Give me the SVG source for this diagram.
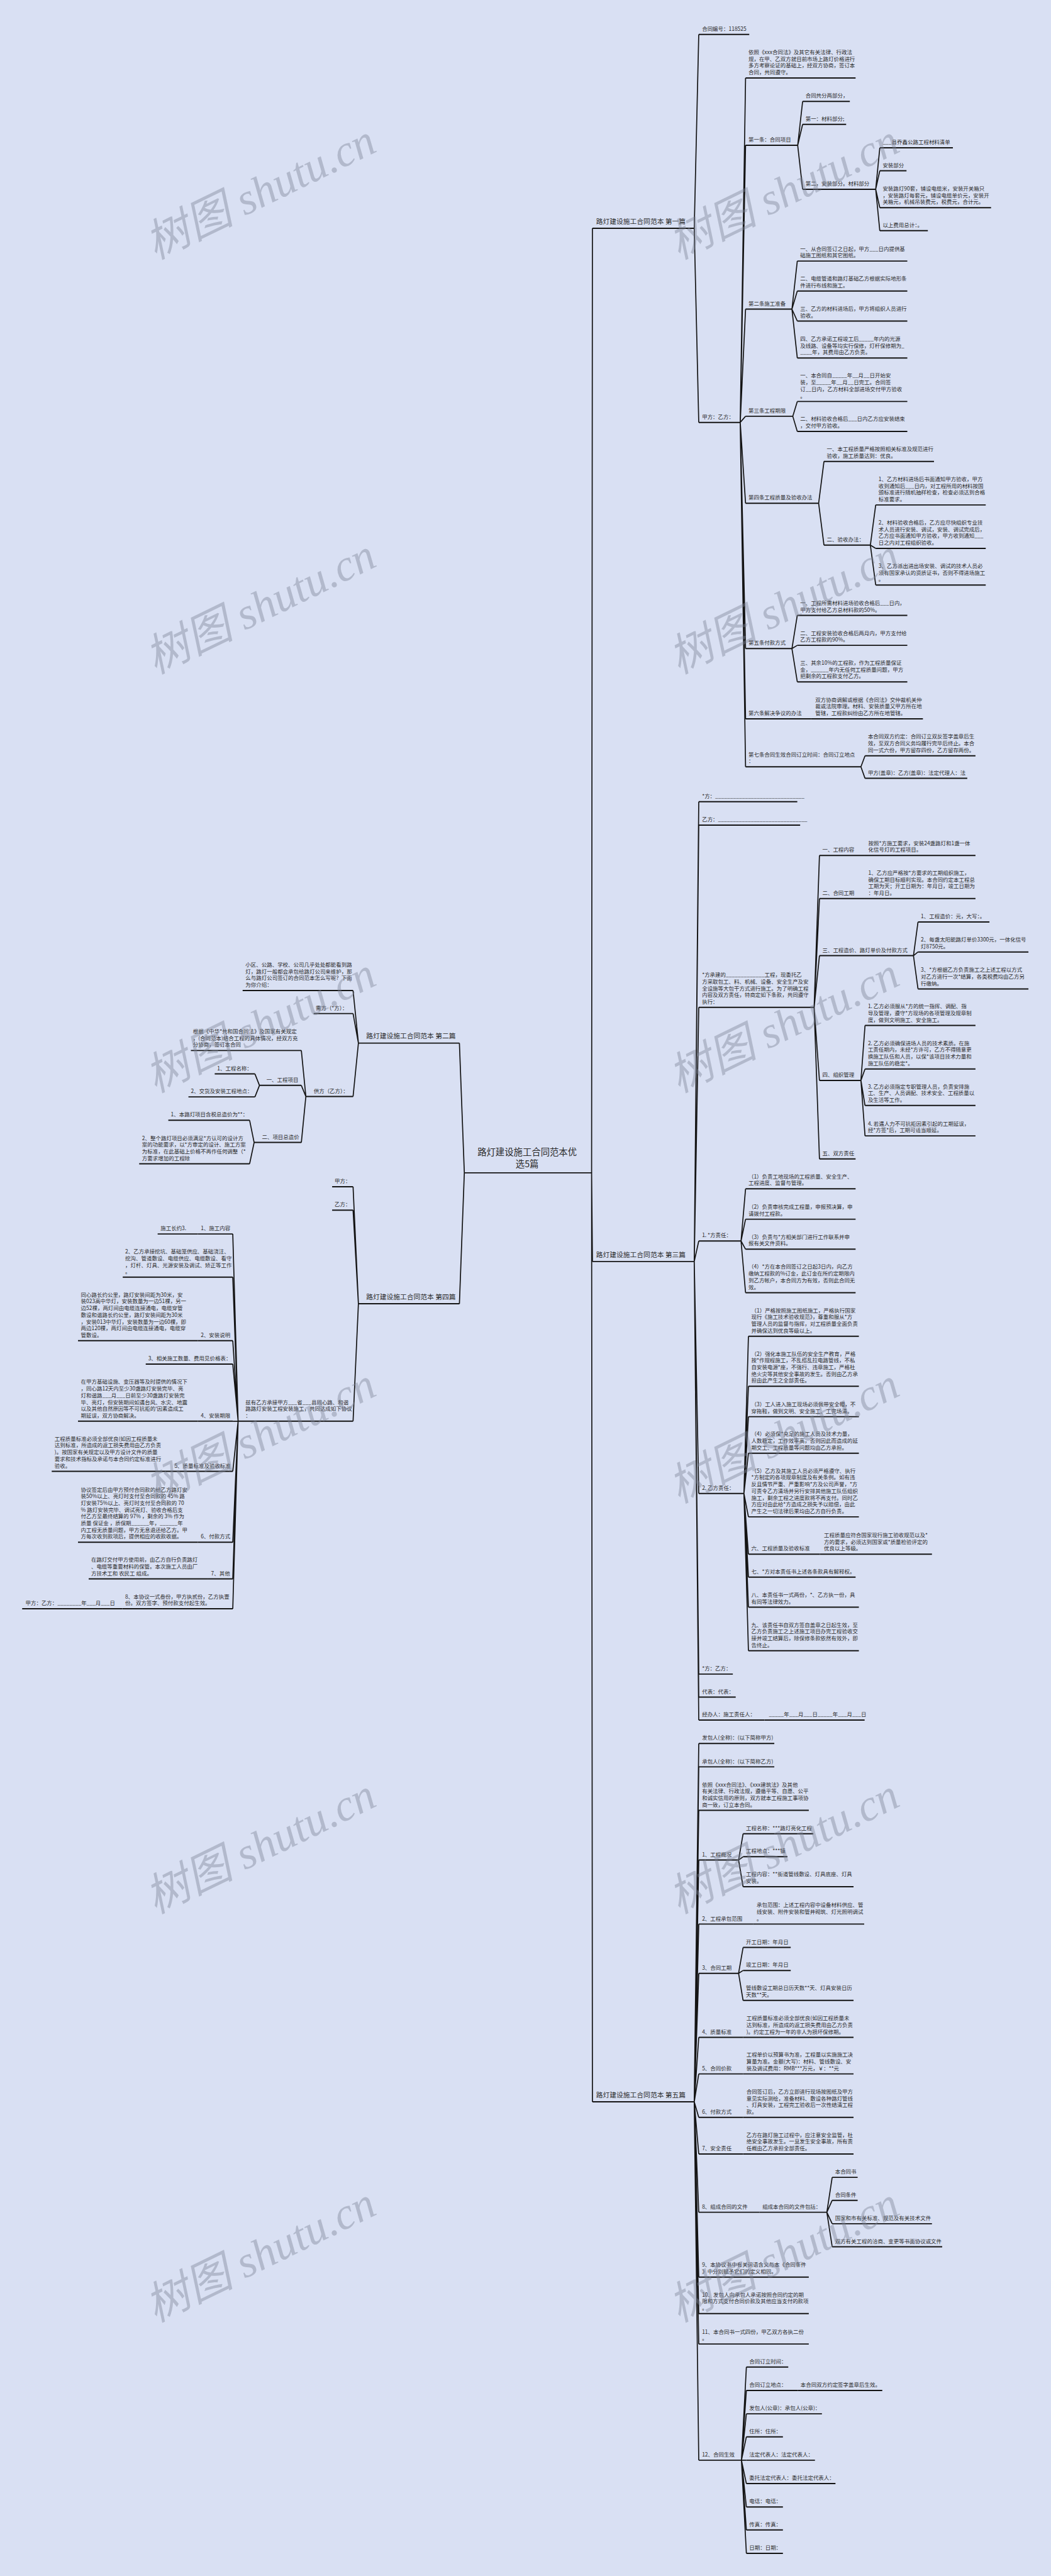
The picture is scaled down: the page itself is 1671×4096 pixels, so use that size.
<svg xmlns="http://www.w3.org/2000/svg" width="1671" height="4096" viewBox="0 0 1671 4096">
<style>
.t{font-family:"Noto Sans CJK SC","Noto Sans",sans-serif;font-size:13px;fill:#2a2a2a}
.b{font-size:16.5px}
.c{font-size:22px}
.u{stroke:#141414;stroke-width:3;fill:none}
.k{stroke:#141414;stroke-width:2.6;fill:none}
.wm{font-family:"Liberation Serif","Noto Sans CJK SC",serif;font-style:italic;font-size:108px;fill:#7d8396;fill-opacity:0.42}
</style>
<rect width="1671" height="4096" fill="#d9e0f3"/>
<g transform="scale(0.65274)">
<g id="connectors" class="k">
<path d="M1441 2857L1443 556M1441 2857L1443 3073M1441 2857L1443 5120M1131 2857L1119 2541M1131 2857L1119 3176"/>
<path d="M1691 556L1702 84M1691 556L1702 1029"/>
<path d="M1803 1029L1816 190M1803 1029L1816 354M1803 1029L1816 753M1803 1029L1816 1014M1803 1029L1816 1226M1803 1029L1816 1580M1803 1029L1816 1751M1803 1029L1816 1868"/>
<path d="M1943 354L1955 247M1943 354L1955 303M1943 354L1955 461"/>
<path d="M2133 461L2143 360M2133 461L2143 416M2133 461L2143 506M2133 461L2143 562"/>
<path d="M1929 753L1942 636M1929 753L1942 709M1929 753L1942 782M1929 753L1942 872"/>
<path d="M1931 1014L1942 978M1931 1014L1942 1051"/>
<path d="M1994 1226L2007 1124M1994 1226L2007 1328"/>
<path d="M2120 1328L2133 1230M2120 1328L2133 1336M2120 1328L2133 1425"/>
<path d="M1929 1580L1942 1499M1929 1580L1942 1572M1929 1580L1942 1661"/>
<path d="M2097 1868L2107 1841M2097 1868L2107 1896"/>
<path d="M1691 3073L1702 1953M1691 3073L1702 2010M1691 3073L1702 2454M1691 3073L1702 3023M1691 3073L1702 3638M1691 3073L1702 4078M1691 3073L1702 4134M1691 3073L1702 4190"/>
<path d="M1983 2454L1996 2084M1983 2454L1996 2189M1983 2454L1996 2328M1983 2454L1996 2632M1983 2454L1996 2823"/>
<path d="M2225 2328L2236 2246M2225 2328L2236 2319M2225 2328L2236 2409"/>
<path d="M2097 2632L2107 2498M2097 2632L2107 2604M2097 2632L2107 2693M2097 2632L2107 2767"/>
<path d="M1805 3023L1816 2896M1805 3023L1816 2970M1805 3023L1816 3043M1805 3023L1816 3149"/>
<path d="M1812 3638L1823 3255M1812 3638L1823 3377M1812 3638L1823 3451M1812 3638L1823 3540M1812 3638L1823 3695M1812 3638L1823 3786M1812 3638L1823 3842M1812 3638L1823 3915M1812 3638L1823 4021"/>
<path d="M1691 5120L1702 4247M1691 5120L1702 4304M1691 5120L1702 4410M1691 5120L1702 4531M1691 5120L1702 4687M1691 5120L1702 4807M1691 5120L1702 4963M1691 5120L1702 5052M1691 5120L1702 5158M1691 5120L1702 5247M1691 5120L1702 5389M1691 5120L1702 5547M1691 5120L1702 5636M1691 5120L1702 5710M1691 5120L1702 5993"/>
<path d="M1799 4531L1810 4467M1799 4531L1810 4523M1799 4531L1810 4596"/>
<path d="M1799 4807L1810 4744M1799 4807L1810 4800M1799 4807L1810 4873"/>
<path d="M2014 5389L2027 5304M2014 5389L2027 5360M2014 5389L2027 5417M2014 5389L2027 5473"/>
<path d="M1806 5993L1818 5766M1806 5993L1818 5823M1806 5993L1818 5880M1806 5993L1818 5936M1806 5993L1818 5993M1806 5993L1818 6050M1806 5993L1818 6107M1806 5993L1818 6163M1806 5993L1818 6220"/>
<path d="M873 2541L860 2413M873 2541L860 2469M873 2541L860 2671"/>
<path d="M745 2671L734 2559M745 2671L734 2644M745 2671L734 2783"/>
<path d="M632 2644L621 2616M632 2644L621 2672"/>
<path d="M619 2783L608 2729M619 2783L608 2835"/>
<path d="M873 3176L860 2891M873 3176L860 2948M873 3176L860 3462"/>
<path d="M580 3462L567 3006M580 3462L567 3111M580 3462L567 3266M580 3462L567 3323M580 3462L567 3462M580 3462L567 3584M580 3462L567 3757M580 3462L567 3846M580 3462L567 3919"/>
</g>

<g id="center"><text class="t c" text-anchor="middle"><tspan x="1284" y="2814">路灯建设施工合同范本优</tspan><tspan x="1284" y="2843">选5篇</tspan></text><path class="u" d="M1131 2857H1441"/></g>

<g id="p1"><text class="t b" x="1452" y="545">路灯建设施工合同范本 第一篇</text><path class="u" d="M1443 556H1691"/></g>
<g id="n1"><text class="t" x="1710" y="75">合同编号：118525</text><path class="u" d="M1702 84H1825"/></g>
<g id="n2"><text class="t" x="1710" y="1020">甲方：乙方：</text><path class="u" d="M1702 1029H1803"/></g>
<g id="n2a"><text class="t"><tspan x="1823" y="131.8">依照《xxx合同法》及其它有关法律、行政法</tspan><tspan x="1823" y="148.2">规，在甲、乙双方就目前市场上路灯价格进行</tspan><tspan x="1823" y="164.6">多方考察论证的基础上，经双方协商，签订本</tspan><tspan x="1823" y="181">合同，共同遵守。</tspan></text><path class="u" d="M1816 190H2084"/></g>
<g id="n2b"><text class="t" x="1823" y="345">第一条：合同项目</text><path class="u" d="M1816 354H1943"/></g>
<g id="n2b1"><text class="t" x="1962" y="238">合同共分两部分，</text><path class="u" d="M1955 247H2070"/></g>
<g id="n2b2"><text class="t" x="1962" y="294">第一：材料部分;</text><path class="u" d="M1955 303H2061"/></g>
<g id="n2b3"><text class="t" x="1962" y="452">第二，安装部分。材料部分</text><path class="u" d="M1955 461H2133"/></g>
<g id="n2b3a"><text class="t" x="2150" y="351">___县乔鑫公路工程材料清单</text><path class="u" d="M2143 360H2321"/></g>
<g id="n2b3b"><text class="t" x="2150" y="407">安装部分</text><path class="u" d="M2143 416H2208"/></g>
<g id="n2b3c"><text class="t"><tspan x="2150" y="464.2">安装路灯90套，铺设电缆米，安装开关箱只</tspan><tspan x="2150" y="480.6">，安装路灯每套元，铺设电缆单价元，安装开</tspan><tspan x="2150" y="497">关箱元，机械吊装费元，税费元，合计元。</tspan></text><path class="u" d="M2143 506H2414"/></g>
<g id="n2b3d"><text class="t" x="2150" y="553">以上费用总计：。</text><path class="u" d="M2143 562H2260"/></g>
<g id="n2c"><text class="t" x="1823" y="744">第二条施工准备</text><path class="u" d="M1816 753H1929"/></g>
<g id="n2c1"><text class="t"><tspan x="1949" y="610.6">一、从合同签订之日起，甲方___日内提供基</tspan><tspan x="1949" y="627">础施工图纸和其它图纸。</tspan></text><path class="u" d="M1942 636H2210"/></g>
<g id="n2c2"><text class="t"><tspan x="1949" y="683.6">二、电缆管道和路灯基础乙方根据实际地形条</tspan><tspan x="1949" y="700">件进行布线和施工。</tspan></text><path class="u" d="M1942 709H2210"/></g>
<g id="n2c3"><text class="t"><tspan x="1949" y="756.6">三、乙方的材料进场后，甲方将组织人员进行</tspan><tspan x="1949" y="773">验收。</tspan></text><path class="u" d="M1942 782H2210"/></g>
<g id="n2c4"><text class="t"><tspan x="1949" y="830.2">四、乙方承诺工程竣工后_____年内的光源</tspan><tspan x="1949" y="846.6">及线路、设备等均实行保修，灯杆保修期为_</tspan><tspan x="1949" y="863">____年，其费用由乙方负责。</tspan></text><path class="u" d="M1942 872H2210"/></g>
<g id="n2d"><text class="t" x="1823" y="1005">第三条工程期限</text><path class="u" d="M1816 1014H1931"/></g>
<g id="n2d1"><text class="t"><tspan x="1949" y="919.8">一、本合同自_____年__月__日开始安</tspan><tspan x="1949" y="936.2">装，至_____年__月__日完工。合同签</tspan><tspan x="1949" y="952.6">订__日内，乙方材料全部进场交付甲方验收</tspan><tspan x="1949" y="969">。</tspan></text><path class="u" d="M1942 978H2210"/></g>
<g id="n2d2"><text class="t"><tspan x="1949" y="1025.6">二、材料验收合格后___日内乙方应安装结束</tspan><tspan x="1949" y="1042">，交付甲方验收。</tspan></text><path class="u" d="M1942 1051H2210"/></g>
<g id="n2e"><text class="t" x="1823" y="1217">第四条工程质量及验收办法</text><path class="u" d="M1816 1226H1994"/></g>
<g id="n2e1"><text class="t"><tspan x="2014" y="1098.6">一、本工程质量严格按照相关标准及规范进行</tspan><tspan x="2014" y="1115">验收，施工质量达到：优良。</tspan></text><path class="u" d="M2007 1124H2275"/></g>
<g id="n2e2"><text class="t" x="2014" y="1319">二、验收办法：</text><path class="u" d="M2007 1328H2120"/></g>
<g id="n2e2a"><text class="t"><tspan x="2140" y="1171.8">1、乙方材料进场后书面通知甲方验收，甲方</tspan><tspan x="2140" y="1188.2">收到通知后___日内，对工程所用的材料按国</tspan><tspan x="2140" y="1204.6">颁标准进行随机抽样检查，检查必须达到合格</tspan><tspan x="2140" y="1221">标准要求。</tspan></text><path class="u" d="M2133 1230H2401"/></g>
<g id="n2e2b"><text class="t"><tspan x="2140" y="1277.8">2、材料验收合格后，乙方应尽快组织专业技</tspan><tspan x="2140" y="1294.2">术人员进行安装、调试，安装、调试完成后，</tspan><tspan x="2140" y="1310.6">乙方应书面通知甲方验收，甲方收到通知___</tspan><tspan x="2140" y="1327">日之内对工程组织验收。</tspan></text><path class="u" d="M2133 1336H2401"/></g>
<g id="n2e2c"><text class="t"><tspan x="2140" y="1383.2">3、乙方派出进出场安装、调试的技术人员必</tspan><tspan x="2140" y="1399.6">须有国家承认的资质证书，否则不得进场施工</tspan><tspan x="2140" y="1416">。</tspan></text><path class="u" d="M2133 1425H2401"/></g>
<g id="n2f"><text class="t" x="1823" y="1571">第五条付款方式</text><path class="u" d="M1816 1580H1929"/></g>
<g id="n2f1"><text class="t"><tspan x="1949" y="1473.6">一、工程所需材料进场验收合格后___日内，</tspan><tspan x="1949" y="1490">甲方支付给乙方总材料款的50%。</tspan></text><path class="u" d="M1942 1499H2210"/></g>
<g id="n2f2"><text class="t"><tspan x="1949" y="1546.6">二、工程安装验收合格后两月内，甲方支付给</tspan><tspan x="1949" y="1563">乙方工程款的90%。</tspan></text><path class="u" d="M1942 1572H2210"/></g>
<g id="n2f3"><text class="t"><tspan x="1949" y="1619.2">三、其余10%的工程款，作为工程质量保证</tspan><tspan x="1949" y="1635.6">金，______年内无任何工程质量问题，甲方</tspan><tspan x="1949" y="1652">把剩余的工程款支付乙方。</tspan></text><path class="u" d="M1942 1661H2210"/></g>
<g id="n2g"><text class="t" x="1823" y="1742">第六条解决争议的办法</text><path class="u" d="M1816 1751H1976"/></g>
<g id="n2g1"><text class="t"><tspan x="1986" y="1709.2">双方协商调解或根据《合同法》交仲裁机关仲</tspan><tspan x="1986" y="1725.6">裁或法院审理。材料、安装质量又甲方所在地</tspan><tspan x="1986" y="1742">管辖，工程款纠纷由乙方所在地管辖。</tspan></text><path class="u" d="M1976 1751H2248"/></g>
<g id="n2h"><text class="t"><tspan x="1823" y="1842.6">第七条合同生效合同订立时间：合同订立地点</tspan><tspan x="1823" y="1859">：</tspan></text><path class="u" d="M1816 1868H2097"/></g>
<g id="n2h1"><text class="t"><tspan x="2114" y="1799.2">本合同双方约定：合同订立双反签字盖章后生</tspan><tspan x="2114" y="1815.6">效，至双方合同义务均履行完毕后终止。本合</tspan><tspan x="2114" y="1832">同一式六份，甲方留存四份，乙方留存两份。</tspan></text><path class="u" d="M2107 1841H2376"/></g>
<g id="n2h2"><text class="t" x="2114" y="1887">甲方(盖章)：乙方(盖章)：法定代理人：法</text><path class="u" d="M2107 1896H2356"/></g>

<g id="p3"><text class="t b" x="1452" y="3062">路灯建设施工合同范本 第三篇</text><path class="u" d="M1443 3073H1691"/></g>
<g id="m1"><text class="t" x="1710" y="1944">*方：______________________________</text><path class="u" d="M1702 1953H1942"/></g>
<g id="m2"><text class="t" x="1710" y="2001">乙方：______________________________</text><path class="u" d="M1702 2010H1949"/></g>
<g id="m3"><text class="t"><tspan x="1710" y="2379.4">*方承建的_____________工程，现委托乙</tspan><tspan x="1710" y="2395.8">方采取包工、料、机械、设备、安全生产及安</tspan><tspan x="1710" y="2412.2">全设施等大包干方式进行施工。为了明确工程</tspan><tspan x="1710" y="2428.6">内容及双方责任，特商定如下条款，共同遵守</tspan><tspan x="1710" y="2445">执行：</tspan></text><path class="u" d="M1702 2454H1983"/></g>
<g id="m3a"><text class="t" x="2003" y="2075">一、工程内容</text><path class="u" d="M1996 2084H2105"/></g>
<g id="m3a1"><text class="t"><tspan x="2115" y="2058.6">按照*方施工要求，安装24盏路灯和1盏一体</tspan><tspan x="2115" y="2075">化信号灯的工程项目。</tspan></text><path class="u" d="M2105 2084H2376"/></g>
<g id="m3b"><text class="t" x="2003" y="2180">二、合同工期</text><path class="u" d="M1996 2189H2105"/></g>
<g id="m3b1"><text class="t"><tspan x="2115" y="2130.8">1、乙方应严格按*方要求的工期组织施工，</tspan><tspan x="2115" y="2147.2">确保工期目标顺利实现。本合同约定本工程总</tspan><tspan x="2115" y="2163.6">工期为天；开工日期为：年月日，竣工日期为</tspan><tspan x="2115" y="2180">：年月日。</tspan></text><path class="u" d="M2105 2189H2376"/></g>
<g id="m3c"><text class="t" x="2003" y="2319">三、工程造价、路灯单价及付款方式</text><path class="u" d="M1996 2328H2225"/></g>
<g id="m3c1"><text class="t" x="2243" y="2237">1、工程造价：元，大写：。</text><path class="u" d="M2236 2246H2410"/></g>
<g id="m3c2"><text class="t"><tspan x="2243" y="2293.6">2、每盏太阳能路灯单价3300元，一体化信号</tspan><tspan x="2243" y="2310">灯8750元。</tspan></text><path class="u" d="M2236 2319H2505"/></g>
<g id="m3c3"><text class="t"><tspan x="2243" y="2367.2">3、*方根据乙方负责施工之上述工程以方式</tspan><tspan x="2243" y="2383.6">对乙方进行一次*结算，各类税费均由乙方另</tspan><tspan x="2243" y="2400">行缴纳。</tspan></text><path class="u" d="M2236 2409H2505"/></g>
<g id="m3d"><text class="t" x="2003" y="2623">四、组织管理</text><path class="u" d="M1996 2632H2097"/></g>
<g id="m3d1"><text class="t"><tspan x="2114" y="2456.2">1. 乙方必须服从*方的统一指挥、调配、指</tspan><tspan x="2114" y="2472.6">导及管理，遵守*方现场的各项管理及规章制</tspan><tspan x="2114" y="2489">度，做到文明施工、安全施工。</tspan></text><path class="u" d="M2107 2498H2376"/></g>
<g id="m3d2"><text class="t"><tspan x="2114" y="2545.8">2. 乙方必须确保进场人员的技术素质。在施</tspan><tspan x="2114" y="2562.2">工责任期内，未经*方许可，乙方不得随意更</tspan><tspan x="2114" y="2578.6">换施工队伍和人员，以保*该项目技术力量和</tspan><tspan x="2114" y="2595">施工队伍的稳定*。</tspan></text><path class="u" d="M2107 2604H2376"/></g>
<g id="m3d3"><text class="t"><tspan x="2114" y="2651.2">3. 乙方必须指定专职管理人员，负责安排施</tspan><tspan x="2114" y="2667.6">工、生产、人员调配、技术安全、工程质量以</tspan><tspan x="2114" y="2684">及生活等工作。</tspan></text><path class="u" d="M2107 2693H2376"/></g>
<g id="m3d4"><text class="t"><tspan x="2114" y="2741.6">4. 若遇人力不可抗拒因素引起的工期延误，</tspan><tspan x="2114" y="2758">经*方签*后，工期可适当顺延。</tspan></text><path class="u" d="M2107 2767H2376"/></g>
<g id="m3e"><text class="t" x="2003" y="2814">五、双方责任</text><path class="u" d="M1996 2823H2084"/></g>
<g id="m4"><text class="t" x="1710" y="3014">1. *方责任：</text><path class="u" d="M1702 3023H1805"/></g>
<g id="m4a"><text class="t"><tspan x="1823" y="2870.6">（1）负责工地现场的工程质量、安全生产、</tspan><tspan x="1823" y="2887">工程进度、监督与管理。</tspan></text><path class="u" d="M1816 2896H2084"/></g>
<g id="m4b"><text class="t"><tspan x="1823" y="2944.6">（2）负责审核完成工程量，申报预决算，申</tspan><tspan x="1823" y="2961">请拨付工程款。</tspan></text><path class="u" d="M1816 2970H2084"/></g>
<g id="m4c"><text class="t"><tspan x="1823" y="3017.6">（3）负责与*方相关部门进行工作联系并申</tspan><tspan x="1823" y="3034">报有关文件资料。</tspan></text><path class="u" d="M1816 3043H2084"/></g>
<g id="m4d"><text class="t"><tspan x="1823" y="3090.8">（4）*方在本合同签订之日起3日内，向乙方</tspan><tspan x="1823" y="3107.2">缴纳工程款的%订金，此订金在所约定期限内</tspan><tspan x="1823" y="3123.6">到乙方帐户，本合同方为有效，否则此合同无</tspan><tspan x="1823" y="3140">效。</tspan></text><path class="u" d="M1816 3149H2084"/></g>
<g id="m5"><text class="t" x="1710" y="3629">2. 乙方责任：</text><path class="u" d="M1702 3638H1812"/></g>
<g id="m5a"><text class="t"><tspan x="1830" y="3196.8">（1）严格按照施工图纸施工，严格执行国家</tspan><tspan x="1830" y="3213.2">现行《施工技术验收规范》，尊重和服从*方</tspan><tspan x="1830" y="3229.6">管理人员的监督与指挥，对工程质量全面负责</tspan><tspan x="1830" y="3246">并确保达到优良等级以上。</tspan></text><path class="u" d="M1823 3255H2092"/></g>
<g id="m5b"><text class="t"><tspan x="1830" y="3302.4">（2）强化本施工队伍的安全生产教育，严格</tspan><tspan x="1830" y="3318.8">按*作规程施工，不乱搭乱拉电路管线，不私</tspan><tspan x="1830" y="3335.2">自安装电源*座，不强行、违章施工，严格杜</tspan><tspan x="1830" y="3351.6">绝火灾等其他安全事故的发生。否则由乙方承</tspan><tspan x="1830" y="3368">担由此产生之全部责任。</tspan></text><path class="u" d="M1823 3377H2092"/></g>
<g id="m5c"><text class="t"><tspan x="1830" y="3425.6">（3）工人进入施工现场必须佩带安全帽，不</tspan><tspan x="1830" y="3442">穿拖鞋，做到文明、安全施工、工完场清。</tspan></text><path class="u" d="M1823 3451H2092"/></g>
<g id="m5d"><text class="t"><tspan x="1830" y="3498.2">（4）必须保*充足的施工人员及技术力量，</tspan><tspan x="1830" y="3514.6">人数稳定，工作效率高，否则因此而造成的延</tspan><tspan x="1830" y="3531">期交工、工程质量等问题均由乙方承担。</tspan></text><path class="u" d="M1823 3540H2092"/></g>
<g id="m5e"><text class="t"><tspan x="1830" y="3587.6">（5）乙方及其施工人员必须严格遵守、执行</tspan><tspan x="1830" y="3604">*方制定的各项规章制度及有关条例。如有违</tspan><tspan x="1830" y="3620.4">反且情节严重、严重影响*方及公司声誉，*方</tspan><tspan x="1830" y="3636.8">可责令乙方清场并另行安排其他施工队伍组织</tspan><tspan x="1830" y="3653.2">施工，剩余工程之进度款将不再支付。同时乙</tspan><tspan x="1830" y="3669.6">方应对由此给*方造成之损失予以赔偿，由此</tspan><tspan x="1830" y="3686">产生之一切法律后果均由乙方自行负责。</tspan></text><path class="u" d="M1823 3695H2092"/></g>
<g id="m5f"><text class="t" x="1830" y="3777">六、工程质量及验收标准</text><path class="u" d="M1823 3786H1997"/></g>
<g id="m5f1"><text class="t"><tspan x="2007" y="3744.2">工程质量应符合国家现行施工验收规范以及*</tspan><tspan x="2007" y="3760.6">方的要求，必须达到国家或*质量检验评定的</tspan><tspan x="2007" y="3777">优良以上等级。</tspan></text><path class="u" d="M1997 3786H2270"/></g>
<g id="m5g"><text class="t" x="1830" y="3833">七、*方对本责任书上述各条款具有解释权。</text><path class="u" d="M1823 3842H2084"/></g>
<g id="m5h"><text class="t"><tspan x="1830" y="3889.6">八、本责任书一式两份，*、乙方执一份，具</tspan><tspan x="1830" y="3906">有同等法律效力。</tspan></text><path class="u" d="M1823 3915H2092"/></g>
<g id="m5i"><text class="t"><tspan x="1830" y="3962.8">九、该责任书自双方签自盖章之日起生效，至</tspan><tspan x="1830" y="3979.2">乙方负责施工之上述施工项目办完工程验收交</tspan><tspan x="1830" y="3995.6">接并竣工结算后，除保修条款依然有效外，即</tspan><tspan x="1830" y="4012">告终止。</tspan></text><path class="u" d="M1823 4021H2092"/></g>
<g id="m6"><text class="t" x="1710" y="4069">*方：乙方：</text><path class="u" d="M1702 4078H1785"/></g>
<g id="m7"><text class="t" x="1710" y="4125">代表：代表：</text><path class="u" d="M1702 4134H1792"/></g>
<g id="m8"><text class="t" x="1710" y="4181">经办人：施工责任人：</text><path class="u" d="M1702 4190H1862"/></g>
<g id="m8a"><text class="t" x="1873" y="4181">_____年___月___日_____年___月___日</text><path class="u" d="M1862 4190H2106"/></g>

<g id="p5"><text class="t b" x="1452" y="5109">路灯建设施工合同范本 第五篇</text><path class="u" d="M1443 5120H1691"/></g>
<g id="q1"><text class="t" x="1710" y="4238">发包人(全称)：(以下简称甲方)</text><path class="u" d="M1702 4247H1886"/></g>
<g id="q2"><text class="t" x="1710" y="4295">承包人(全称)：(以下简称乙方)</text><path class="u" d="M1702 4304H1886"/></g>
<g id="q3"><text class="t"><tspan x="1710" y="4351.8">依照《xxx合同法》、《xxx建筑法》及其他</tspan><tspan x="1710" y="4368.2">有关法律、行政法规，遵循平等、自愿、公平</tspan><tspan x="1710" y="4384.6">和诚实信用的原则，双方就本工程施工事项协</tspan><tspan x="1710" y="4401">商一致，订立本合同。</tspan></text><path class="u" d="M1702 4410H1970"/></g>
<g id="q4"><text class="t" x="1710" y="4522">1、工程概况</text><path class="u" d="M1702 4531H1799"/></g>
<g id="q4a"><text class="t" x="1817" y="4458">工程名称：***路灯亮化工程</text><path class="u" d="M1810 4467H1981"/></g>
<g id="q4b"><text class="t" x="1817" y="4514">工程地点：***镇</text><path class="u" d="M1810 4523H1918"/></g>
<g id="q4c"><text class="t"><tspan x="1817" y="4570.6">工程内容：**街道管线敷设、灯具底座、灯具</tspan><tspan x="1817" y="4587">安装。</tspan></text><path class="u" d="M1810 4596H2079"/></g>
<g id="q5"><text class="t" x="1710" y="4678">2、工程承包范围</text><path class="u" d="M1702 4687H1835"/></g>
<g id="q5a"><text class="t"><tspan x="1843" y="4645.2">承包范围：上述工程内容中设备材料供应、管</tspan><tspan x="1843" y="4661.6">线安装、附件安装和管井砌筑、灯光照明调试</tspan><tspan x="1843" y="4678">。</tspan></text><path class="u" d="M1835 4687H2105"/></g>
<g id="q6"><text class="t" x="1710" y="4798">3、合同工期</text><path class="u" d="M1702 4807H1799"/></g>
<g id="q6a"><text class="t" x="1817" y="4735">开工日期：年月日</text><path class="u" d="M1810 4744H1926"/></g>
<g id="q6b"><text class="t" x="1817" y="4791">竣工日期：年月日</text><path class="u" d="M1810 4800H1926"/></g>
<g id="q6c"><text class="t"><tspan x="1817" y="4847.6">管线敷设工期总日历天数**天、灯具安装日历</tspan><tspan x="1817" y="4864">天数**天。</tspan></text><path class="u" d="M1810 4873H2079"/></g>
<g id="q7"><text class="t" x="1710" y="4954">4、质量标准</text><path class="u" d="M1702 4963H1810"/></g>
<g id="q7a"><text class="t"><tspan x="1818" y="4921.2">工程质量标准必须全部优良(如因工程质量未</tspan><tspan x="1818" y="4937.6">达到标准，所造成的返工损失费用由乙方负责</tspan><tspan x="1818" y="4954">)。约定工程为一年的非人为损坏保修期。</tspan></text><path class="u" d="M1810 4963H2079"/></g>
<g id="q8"><text class="t" x="1710" y="5043">5、合同价款</text><path class="u" d="M1702 5052H1810"/></g>
<g id="q8a"><text class="t"><tspan x="1818" y="5010.2">工程单价以预算书为准，工程量以实施施工决</tspan><tspan x="1818" y="5026.6">算量为准。金额(大写)：材料、管线敷设、安</tspan><tspan x="1818" y="5043">装及调试费用：RMB***万元，￥：**元</tspan></text><path class="u" d="M1810 5052H2079"/></g>
<g id="q9"><text class="t" x="1710" y="5149">6、付款方式</text><path class="u" d="M1702 5158H1810"/></g>
<g id="q9a"><text class="t"><tspan x="1818" y="5099.8">合同签订后，乙方立即进行现场按图纸及甲方</tspan><tspan x="1818" y="5116.2">意见实际测绘，准备材料、敷设各种路灯管线</tspan><tspan x="1818" y="5132.6">、灯具安装，工程完工验收后一次性结清工程</tspan><tspan x="1818" y="5149">款。</tspan></text><path class="u" d="M1810 5158H2079"/></g>
<g id="q10"><text class="t" x="1710" y="5238">7、安全责任</text><path class="u" d="M1702 5247H1810"/></g>
<g id="q10a"><text class="t"><tspan x="1818" y="5205.2">乙方在路灯施工过程中，应注意安全监管，杜</tspan><tspan x="1818" y="5221.6">绝安全事故发生。一旦发生安全事故，所有责</tspan><tspan x="1818" y="5238">任概由乙方承担全部责任。</tspan></text><path class="u" d="M1810 5247H2079"/></g>
<g id="q11"><text class="t" x="1710" y="5380">8、组成合同的文件</text><path class="u" d="M1702 5389H1850"/></g>
<g id="q11x"><text class="t" x="1857" y="5380">组成本合同的文件包括：</text><path class="u" d="M1850 5389H2014"/></g>
<g id="q11a"><text class="t" x="2034" y="5295">本合同书</text><path class="u" d="M2027 5304H2089"/></g>
<g id="q11b"><text class="t" x="2034" y="5351">合同条件</text><path class="u" d="M2027 5360H2089"/></g>
<g id="q11c"><text class="t" x="2034" y="5408">国家和市有关标准、规范及有关技术文件</text><path class="u" d="M2027 5417H2270"/></g>
<g id="q11d"><text class="t" x="2034" y="5464">双方有关工程的洽商、变更等书面协议或文件</text><path class="u" d="M2027 5473H2295"/></g>
<g id="q12"><text class="t"><tspan x="1710" y="5521.6">9、本协议书中有关词语含义与本《合同条件</tspan><tspan x="1710" y="5538">》中分别赋予它们的定义相同。</tspan></text><path class="u" d="M1702 5547H1970"/></g>
<g id="q13"><text class="t"><tspan x="1710" y="5594.2">10、发包人向承包人承诺按照合同约定的期</tspan><tspan x="1710" y="5610.6">限和方式支付合同价款及其他应当支付的款项</tspan><tspan x="1710" y="5627">。</tspan></text><path class="u" d="M1702 5636H1970"/></g>
<g id="q14"><text class="t"><tspan x="1710" y="5684.6">11、本合同书一式四份，甲乙双方各执二份</tspan><tspan x="1710" y="5701">。</tspan></text><path class="u" d="M1702 5710H1970"/></g>
<g id="q15"><text class="t" x="1710" y="5984">12、合同生效</text><path class="u" d="M1702 5993H1806"/></g>
<g id="q15a"><text class="t" x="1825" y="5757">合同订立时间：</text><path class="u" d="M1818 5766H1920"/></g>
<g id="q15b"><text class="t" x="1825" y="5814">合同订立地点：</text><path class="u" d="M1818 5823H1943"/></g>
<g id="q15b1"><text class="t" x="1950" y="5814">本合同双方约定签字盖章后生效。</text><path class="u" d="M1943 5823H2149"/></g>
<g id="q15c"><text class="t" x="1825" y="5871">发包人(公章)：承包人(公章)：</text><path class="u" d="M1818 5880H2002"/></g>
<g id="q15d"><text class="t" x="1825" y="5927">住所：住所：</text><path class="u" d="M1818 5936H1907"/></g>
<g id="q15e"><text class="t" x="1825" y="5984">法定代表人：法定代表人：</text><path class="u" d="M1818 5993H1985"/></g>
<g id="q15f"><text class="t" x="1825" y="6041">委托法定代表人：委托法定代表人：</text><path class="u" d="M1818 6050H2035"/></g>
<g id="q15g"><text class="t" x="1825" y="6098">电话：电话：</text><path class="u" d="M1818 6107H1907"/></g>
<g id="q15h"><text class="t" x="1825" y="6154">传真：传真：</text><path class="u" d="M1818 6163H1907"/></g>
<g id="q15i"><text class="t" x="1825" y="6211">日期：日期：</text><path class="u" d="M1818 6220H1907"/></g>

<g id="p2"><text class="t b" x="892" y="2530">路灯建设施工合同范本 第二篇</text><path class="u" d="M873 2541H1119"/></g>
<g id="l1"><text class="t"><tspan x="598" y="2354.8">小区、公路、学校、公司几乎处处都能看到路</tspan><tspan x="598" y="2371.2">灯，路灯一般都会承包给路灯公司来维护，那</tspan><tspan x="598" y="2387.6">么与路灯公司签订的合同范本怎么写呢？下面</tspan><tspan x="598" y="2404">为你介绍：</tspan></text><path class="u" d="M591 2413H860"/></g>
<g id="l2"><text class="t" x="769" y="2460">需方（*方）：</text><path class="u" d="M764 2469H860"/></g>
<g id="l3"><text class="t" x="764" y="2662">供方（乙方）：</text><path class="u" d="M745 2671H860"/></g>
<g id="l3a"><text class="t"><tspan x="470" y="2517.2">根据《中华*共和国合同法》及国家有关规定</tspan><tspan x="470" y="2533.6">，(合同范本)结合工程的具体情况，经双方充</tspan><tspan x="470" y="2550">分协商，签订本合同</tspan></text><path class="u" d="M465 2559H734"/></g>
<g id="l3b"><text class="t" x="649" y="2635">一、工程项目</text><path class="u" d="M632 2644H734"/></g>
<g id="l3b1"><text class="t" x="529" y="2607">1、工程名称：</text><path class="u" d="M523 2616H621"/></g>
<g id="l3b2"><text class="t" x="465" y="2663">2、交货及安装工程地点：</text><path class="u" d="M459 2672H621"/></g>
<g id="l3c"><text class="t" x="638" y="2774">二、项目总造价</text><path class="u" d="M619 2783H734"/></g>
<g id="l3c1"><text class="t" x="416" y="2720">1、本路灯项目含税总造价为**：</text><path class="u" d="M410 2729H608"/></g>
<g id="l3c2"><text class="t"><tspan x="346" y="2776.8">2、整个路灯项目必须满足*方认可的设计方</tspan><tspan x="346" y="2793.2">案的功能要求，以*方审定的设计、施工方案</tspan><tspan x="346" y="2809.6">为标准，在此基础上价格不再作任何调整（*</tspan><tspan x="346" y="2826">方要求增加的工程除</tspan></text><path class="u" d="M339 2835H608"/></g>

<g id="p4"><text class="t b" x="892" y="3165">路灯建设施工合同范本 第四篇</text><path class="u" d="M873 3176H1119"/></g>
<g id="k1"><text class="t" x="815" y="2882">甲方：</text><path class="u" d="M809 2891H860"/></g>
<g id="k2"><text class="t" x="815" y="2939">乙方：</text><path class="u" d="M809 2948H860"/></g>
<g id="k3"><text class="t"><tspan x="598" y="3420.2">兹有乙方承接甲方___省___县同心路、和谐</tspan><tspan x="598" y="3436.6">路路灯安装工程安装施工，共同达成如下协议</tspan><tspan x="598" y="3453">：</tspan></text><path class="u" d="M580 3462H860"/></g>
<g id="k3a"><text class="t" x="489" y="2997">1、施工内容</text><path class="u" d="M482 3006H567"/></g>
<g id="k3a1"><text class="t" x="391" y="2997">施工长约3.</text><path class="u" d="M384 3006H482"/></g>
<g id="k3b"><text class="t"><tspan x="305" y="3053.8">2、乙方承接挖坑、基础笼供应、基础浇注、</tspan><tspan x="305" y="3070.2">挖沟、管道敷设、电缆供应、电缆敷设、看守</tspan><tspan x="305" y="3086.6">，灯杆、灯具、光源安装及调试、矫正等工作</tspan><tspan x="305" y="3103">。</tspan></text><path class="u" d="M299 3111H567"/></g>
<g id="k3c"><text class="t" x="489" y="3257">2、安装说明</text><path class="u" d="M482 3266H567"/></g>
<g id="k3c1"><text class="t"><tspan x="197" y="3158.6">同心路长约公里，路灯安装间距为30米，安</tspan><tspan x="197" y="3175">装023高中华灯，安装数量为一边51棵，另一</tspan><tspan x="197" y="3191.4">边52棵，两灯间由电缆连接通电，电缆穿管</tspan><tspan x="197" y="3207.8">敷设和谐路长约公里，路灯安装间距为30米</tspan><tspan x="197" y="3224.2">，安装013中华灯，安装数量为一边60棵，即</tspan><tspan x="197" y="3240.6">两边120棵，两灯间由电缆连接通电，电缆穿</tspan><tspan x="197" y="3257">管敷设。</tspan></text><path class="u" d="M190 3266H482"/></g>
<g id="k3d"><text class="t" x="361" y="3314">3、相关施工数量、费用见价格表：</text><path class="u" d="M355 3323H567"/></g>
<g id="k3e"><text class="t" x="489" y="3453">4、安装期限</text><path class="u" d="M482 3462H567"/></g>
<g id="k3e1"><text class="t"><tspan x="197" y="3371">在甲方基础设施、变压器等及时提供的情况下</tspan><tspan x="197" y="3387.4">，同心路12天内至少30盏路灯安装完毕、亮</tspan><tspan x="197" y="3403.8">灯和谐路___月___日前至少30盏路灯安装完</tspan><tspan x="197" y="3420.2">毕、亮灯，但安装期间如遇台风、水灾、地震</tspan><tspan x="197" y="3436.6">以及其他自然原因等不可抗拒的'因素造成工</tspan><tspan x="197" y="3453">期延误，双方协商解决。</tspan></text><path class="u" d="M190 3462H482"/></g>
<g id="k3f"><text class="t" x="425" y="3575">5、质量标准及验收标准</text><path class="u" d="M418 3584H567"/></g>
<g id="k3f1"><text class="t"><tspan x="133" y="3509.4">工程质量标准必须全部优良(如因工程质量未</tspan><tspan x="133" y="3525.8">达到标准，所造成的返工损失费用由乙方负责</tspan><tspan x="133" y="3542.2">)。按国家有关规定以及甲方设计文件的质量</tspan><tspan x="133" y="3558.6">要求和技术指标及承诺与本合同约定标准进行</tspan><tspan x="133" y="3575">验收。</tspan></text><path class="u" d="M126 3584H418"/></g>
<g id="k3g"><text class="t" x="489" y="3748">6、付款方式</text><path class="u" d="M482 3757H567"/></g>
<g id="k3g1"><text class="t"><tspan x="197" y="3633.2">协议签定后由甲方预付合同款的给乙方路灯安</tspan><tspan x="197" y="3649.6">装50%以上、亮灯时支付至合同款的 45% 路</tspan><tspan x="197" y="3666">灯安装75%以上、亮灯时支付至合同款的 70</tspan><tspan x="197" y="3682.4">% 路灯安装完毕、调试亮灯、验收合格后支</tspan><tspan x="197" y="3698.8">付乙方至最终结算的 97% ，剩余的 3% 作为</tspan><tspan x="197" y="3715.2">质量 保证金 ，质保期______年，______年</tspan><tspan x="197" y="3731.6">内工程无质量问题，甲方无息退还给乙方。甲</tspan><tspan x="197" y="3748">方每次收到款项后，提供相应的收款收据。</tspan></text><path class="u" d="M190 3757H482"/></g>
<g id="k3h"><text class="t" x="514" y="3837">7、其他</text><path class="u" d="M507 3846H567"/></g>
<g id="k3h1"><text class="t"><tspan x="222" y="3804.2">在路灯交付甲方使用前，由乙方自行负责路灯</tspan><tspan x="222" y="3820.6">、电缆等重要材料的保管。本次施工人员由厂</tspan><tspan x="222" y="3837">方技术工和 农民工 组成。</tspan></text><path class="u" d="M216 3846H507"/></g>
<g id="k3i"><text class="t"><tspan x="305" y="3893.6">8、本协议一式叁份，甲方执贰份，乙方执壹</tspan><tspan x="305" y="3910">份。双方签字、预付款支付起生效。</tspan></text><path class="u" d="M298 3919H567"/></g>
<g id="k3i1"><text class="t" x="62" y="3910">甲方：乙方：________年___月___日</text><path class="u" d="M54 3919H298"/></g>

<g id="watermark" class="wm" text-anchor="middle">
<text transform="translate(650 500) rotate(-26)">树图 shutu.cn</text>
<text transform="translate(1925 500) rotate(-26)">树图 shutu.cn</text>
<text transform="translate(650 1510) rotate(-26)">树图 shutu.cn</text>
<text transform="translate(1925 1510) rotate(-26)">树图 shutu.cn</text>
<text transform="translate(650 2530) rotate(-26)">树图 shutu.cn</text>
<text transform="translate(1925 2530) rotate(-26)">树图 shutu.cn</text>
<text transform="translate(650 3530) rotate(-26)">树图 shutu.cn</text>
<text transform="translate(1925 3530) rotate(-26)">树图 shutu.cn</text>
<text transform="translate(650 4530) rotate(-26)">树图 shutu.cn</text>
<text transform="translate(1925 4530) rotate(-26)">树图 shutu.cn</text>
<text transform="translate(650 5525) rotate(-26)">树图 shutu.cn</text>
<text transform="translate(1925 5525) rotate(-26)">树图 shutu.cn</text>
</g>
</g>
</svg>
